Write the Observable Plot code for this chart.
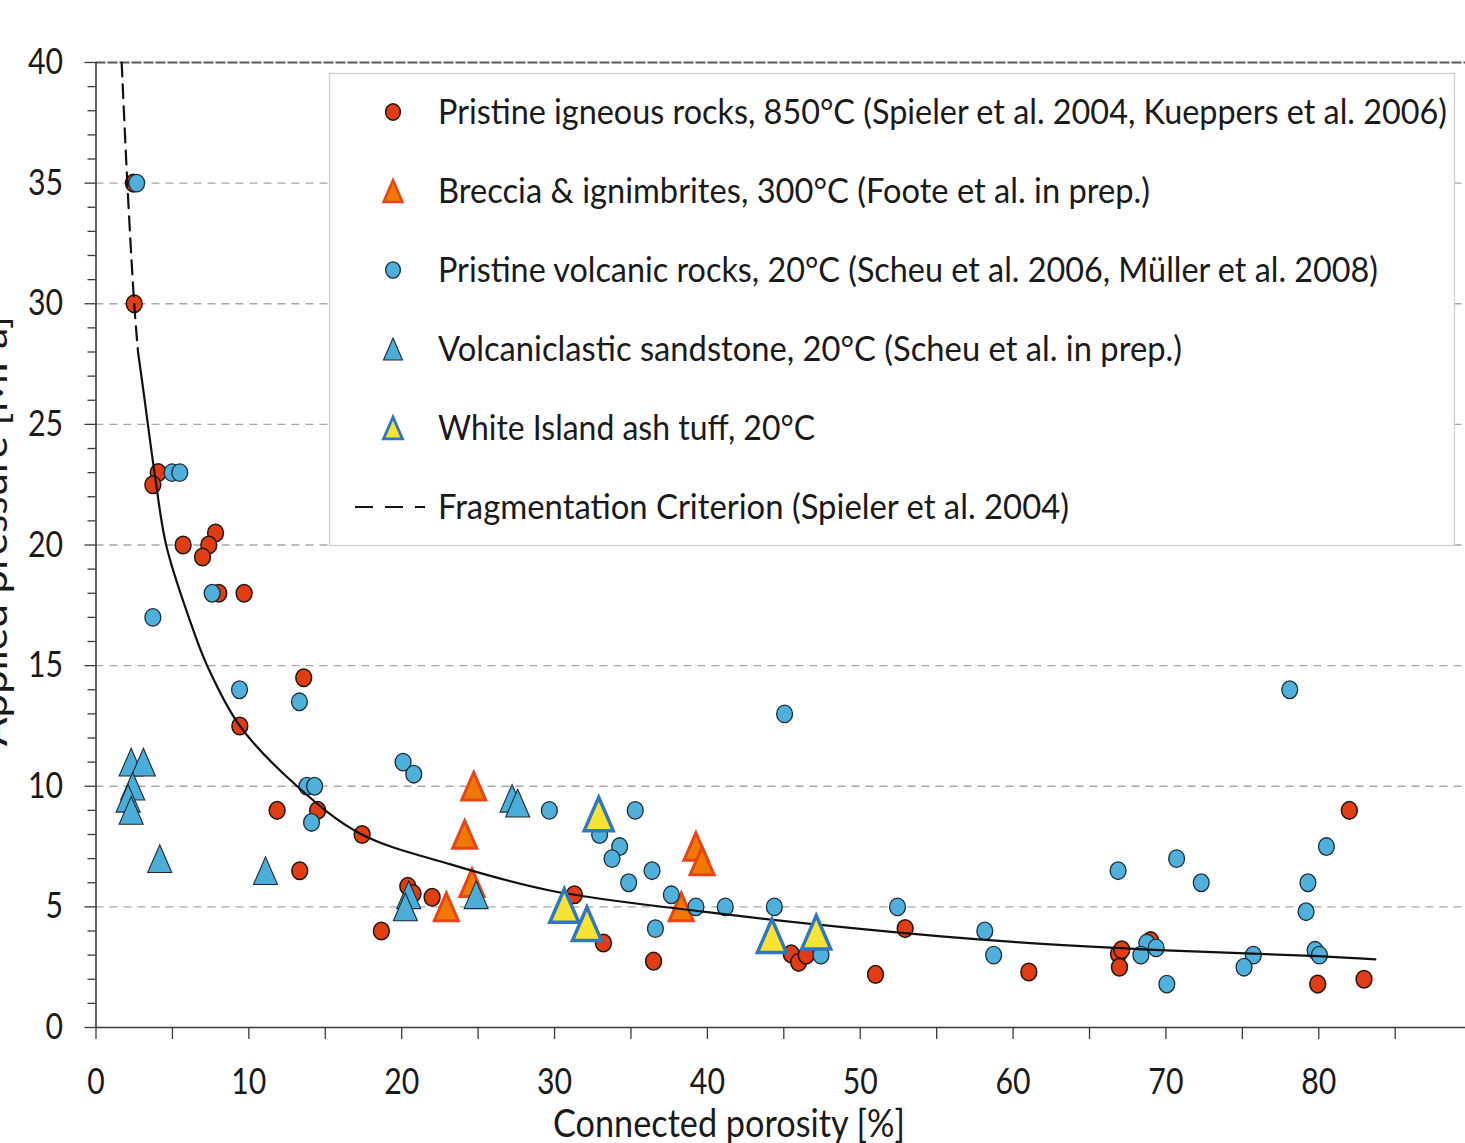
<!DOCTYPE html>
<html><head><meta charset="utf-8">
<script src="https://cdn.jsdelivr.net/npm/d3@7"></script>
<script src="https://cdn.jsdelivr.net/npm/@observablehq/plot@0.6"></script>
<style>html,body{margin:0;padding:0;background:#fff;} svg{display:block}</style>
</head><body><div id="chart"></div>
<script>
// ---------- data ----------
const igneousX = [2.45, 2.5, 4.07, 3.72, 5.7, 7.82, 7.38, 6.97, 8.03, 9.69, 13.59, 9.41, 11.85, 14.5, 13.33, 17.41, 20.4, 20.74, 21.99, 18.67, 31.3, 33.2, 36.48, 45.49, 45.97, 46.47, 51.0, 52.94, 61.03, 66.9, 67.11, 66.96, 69.0, 79.93, 82.96, 82.0];
const igneousY = [35, 30, 23, 22.5, 20, 20.5, 20, 19.5, 18, 18, 14.5, 12.5, 9, 9, 6.5, 8, 5.85, 5.55, 5.4, 4.0, 5.5, 3.5, 2.75, 3.05, 2.7, 3.0, 2.2, 4.1, 2.3, 3.05, 3.22, 2.5, 3.6, 1.8, 2.0, 9.0];

const brecciaX = [24.71, 24.12, 24.6, 22.92, 39.25, 39.65, 38.29];
const brecciaY = [10, 8, 6, 5.0, 7.5, 6.9, 5.0];

const volcanicX = [2.66, 4.98, 5.48, 7.6, 3.72, 9.39, 13.31, 13.8, 14.3, 14.1, 20.09, 20.79, 29.66, 32.95, 35.28, 34.26, 33.76, 36.38, 34.85, 37.64, 39.25, 41.17, 44.38, 36.6, 47.43, 45.05, 52.44, 58.15, 58.73, 66.87, 70.7, 72.31, 78.1, 80.5, 79.29, 79.17, 68.75, 69.36, 68.36, 70.06, 75.72, 75.11, 79.76, 80.04];
const volcanicY = [35, 23, 23, 18, 17, 14, 13.5, 10, 10, 8.5, 11, 10.5, 9, 8.0, 9, 7.5, 7.0, 6.5, 6.0, 5.5, 5.0, 5.0, 5.0, 4.1, 3.0, 13.0, 5.0, 4.0, 3.0, 6.5, 7.0, 6.0, 14.0, 7.5, 6.0, 4.8, 3.5, 3.3, 3.0, 1.8, 3.0, 2.5, 3.2, 3.0];

const sandstoneX = [2.3, 3.1, 2.4, 2.1, 2.3, 4.17, 11.09, 20.46, 20.24, 24.87, 27.22, 27.59];
const sandstoneY = [11, 11, 10, 9.5, 9.0, 7.0, 6.5, 5.5, 5.0, 5.5, 9.5, 9.3];

const tuffX = [32.89, 30.64, 32.12, 44.22, 47.12];
const tuffY = [8.85, 5.05, 4.3, 3.8, 3.95];

// Fragmentation criterion curve
const critDashX = [1.68, 2.05, 2.5, 2.75];
const critDashY = [40, 35, 30, 28];
const critSolidX = [2.75, 3.1, 3.83, 4.59, 6.07, 7.27, 9.41, 13.16, 17.3, 23.2, 29.7, 40, 50, 60, 70, 80, 83.7];
const critSolidY = [28, 26.4, 23, 20, 17, 15, 12.5, 10, 8.03, 6.76, 5.68, 4.78, 4.09, 3.55, 3.2, 2.96, 2.82];

// axes
const xTicks = [0, 5, 10, 15, 20, 25, 30, 35, 40, 45, 50, 55, 60, 65, 70, 75, 80, 85];
const xTickLabels = [0, 10, 20, 30, 40, 50, 60, 70, 80];
const yMajorTicks = [0, 5, 10, 15, 20, 25, 30, 35, 40];
const yMinorTicks = d3.range(0, 41).filter(v => v % 5 !== 0);
const gridValues = [5, 10, 15, 20, 25, 30, 35];

const xTitle = "Connected porosity [%]";
const yTitle = "Applied pressure [MPa]";
const legendLabels = [
  "Pristine igneous rocks, 850°C (Spieler et al. 2004, Kueppers et al. 2006)",
  "Breccia & ignimbrites, 300°C (Foote et al. in prep.)",
  "Pristine volcanic rocks, 20°C (Scheu et al. 2006, Müller et al. 2008)",
  "Volcaniclastic sandstone, 20°C (Scheu et al. in prep.)",
  "White Island ash tuff, 20°C",
  "Fragmentation Criterion (Spieler et al. 2004)"
];

// ---------- helpers ----------
const zip = (xs, ys) => xs.map((x, i) => ({x, y: ys[i]}));
const ellipse = {
  draw(ctx, size) {
    const r = Math.sqrt(size / Math.PI), rx = r * 0.9, ry = r, k = 0.5523;
    ctx.moveTo(rx, 0);
    ctx.bezierCurveTo(rx, ry * k, rx * k, ry, 0, ry);
    ctx.bezierCurveTo(-rx * k, ry, -rx, ry * k, -rx, 0);
    ctx.bezierCurveTo(-rx, -ry * k, -rx * k, -ry, 0, -ry);
    ctx.bezierCurveTo(rx * k, -ry, rx, -ry * k, rx, 0);
    ctx.closePath();
  }
};
const tallTriangle = {
  draw(ctx, size) {
    const r = Math.sqrt(size / Math.PI), h = 2.3 * r;
    ctx.moveTo(0, -h / 2);
    ctx.lineTo(r, h / 2);
    ctx.lineTo(-r, h / 2);
    ctx.closePath();
  }
};

const styles = {
  igneous: {symbol: ellipse, r: 8.8, fill: "#e23c12", stroke: "#231510", strokeWidth: 1.5},
  breccia: {symbol: tallTriangle, r: 12, fill: "#f07a00", stroke: "#e84418", strokeWidth: 3},
  volcanic: {symbol: ellipse, r: 8.8, fill: "#4fb0dc", stroke: "#1d2c38", strokeWidth: 1.3},
  sandstone: {symbol: tallTriangle, r: 12, fill: "#4aaed9", stroke: "#1b2a36", strokeWidth: 1.1},
  tuff: {symbol: tallTriangle, r: 14.5, fill: "#f8e233", stroke: "#2f78bf", strokeWidth: 3.5}
};

const axisColor = "#3a3a3a";

const plot = Plot.plot({
  width: 1465,
  height: 1143,
  marginLeft: 95.5,
  marginRight: 0,
  marginTop: 62,
  marginBottom: 116,
  x: {domain: [0, 89.6], label: null},
  y: {domain: [0, 40], label: null},
  style: {fontFamily: "Lato, 'Open Sans', sans-serif", fontSize: "36px", color: "#1a1a1a", background: "#fff", overflow: "visible"},
  marks: [
    Plot.ruleY(gridValues, {stroke: "#a8a8a8", strokeWidth: 1.3, strokeDasharray: "8,6"}),
    Plot.ruleY([40], {stroke: "#5a5a5a", strokeWidth: 2, strokeDasharray: "10,2"}),
    Plot.axisY({ticks: yMinorTicks, tickSize: 8, tickFormat: () => "", stroke: axisColor, strokeWidth: 1.3}),
    Plot.axisY({ticks: yMajorTicks, tickSize: 11, tickPadding: 22, stroke: axisColor, strokeWidth: 1.3, label: null}),
    Plot.axisX({ticks: xTicks, tickSize: 12, tickPadding: 29, stroke: axisColor, strokeWidth: 1.3, label: null,
      tickFormat: d => xTickLabels.includes(d) ? String(d) : ""}),
    Plot.ruleX([0], {stroke: axisColor, strokeWidth: 1.6}),
    Plot.ruleY([0], {stroke: axisColor, strokeWidth: 1.6}),
    Plot.dot(zip(igneousX, igneousY), {x: "x", y: "y", ...styles.igneous}),
    Plot.dot(zip(brecciaX, brecciaY), {x: "x", y: "y", ...styles.breccia, strokeLinejoin: "miter"}),
    Plot.dot(zip(volcanicX, volcanicY), {x: "x", y: "y", ...styles.volcanic}),
    Plot.dot(zip(sandstoneX, sandstoneY), {x: "x", y: "y", ...styles.sandstone}),
    Plot.line(zip(critDashX, critDashY), {x: "x", y: "y", curve: "catmull-rom", stroke: "#111", strokeWidth: 2.2, strokeDasharray: "14,8"}),
    Plot.line(zip(critSolidX, critSolidY), {x: "x", y: "y", curve: "catmull-rom", stroke: "#111", strokeWidth: 2.2}),
    Plot.dot(zip(tuffX, tuffY), {x: "x", y: "y", ...styles.tuff, strokeLinejoin: "miter"})
  ]
});

document.getElementById("chart").appendChild(plot);

// condense tick labels (reference font is narrow)
d3.select(plot).selectAll("g[aria-label*='tick label'] text").each(function() {
  const len = this.getComputedTextLength();
  if (len > 0) {
    this.setAttribute("textLength", (len * 0.84).toFixed(1));
    this.setAttribute("lengthAdjust", "spacingAndGlyphs");
  }
});

const svg = d3.select(plot);

// axis titles
svg.append("text")
  .attr("x", 729).attr("y", 1137)
  .attr("text-anchor", "middle")
  .attr("font-size", 38).attr("fill", "#1a1a1a")
  .attr("textLength", 352).attr("lengthAdjust", "spacingAndGlyphs")
  .text(xTitle);
svg.append("text")
  .attr("transform", "translate(7,531) rotate(-90)")
  .attr("text-anchor", "middle")
  .attr("font-size", 38).attr("fill", "#1a1a1a")
  .attr("textLength", 430).attr("lengthAdjust", "spacingAndGlyphs")
  .text(yTitle);

// legend
const lg = svg.append("g").attr("text-anchor", "start");
lg.append("rect")
  .attr("x", 329.5).attr("y", 73.5).attr("width", 1125).attr("height", 472)
  .attr("fill", "#fff").attr("stroke", "#cfcfcf").attr("stroke-width", 1.3);

const legendWidths = [1009, 712, 940, 744, 377, 631];
const legendMarkers = [
  {...styles.igneous, r: 8.2},
  {...styles.breccia, r: 9.5, strokeWidth: 2.5},
  {...styles.volcanic, r: 8.2},
  {...styles.sandstone, r: 9.5},
  {...styles.tuff, r: 9.5, strokeWidth: 2.8},
  null
];
const rowY0 = 112, rowStep = 79;
legendLabels.forEach((label, i) => {
  const cy = rowY0 + i * rowStep;
  const m = legendMarkers[i];
  if (m) {
    lg.append("path")
      .attr("transform", `translate(393,${cy})`)
      .attr("d", d3.symbol(m.symbol, Math.PI * m.r * m.r)())
      .attr("fill", m.fill).attr("stroke", m.stroke).attr("stroke-width", m.strokeWidth)
      .attr("stroke-linejoin", "miter");
  } else {
    lg.append("line")
      .attr("x1", 355).attr("x2", 425).attr("y1", cy).attr("y2", cy)
      .attr("stroke", "#111").attr("stroke-width", 2).attr("stroke-dasharray", "18,12");
  }
  lg.append("text")
    .attr("x", 438).attr("y", cy + 12)
    .attr("text-anchor", "start")
    .attr("font-size", 34).attr("fill", "#1a1a1a")
    .attr("textLength", legendWidths[i]).attr("lengthAdjust", "spacingAndGlyphs")
    .text(label);
});
</script></body></html>
